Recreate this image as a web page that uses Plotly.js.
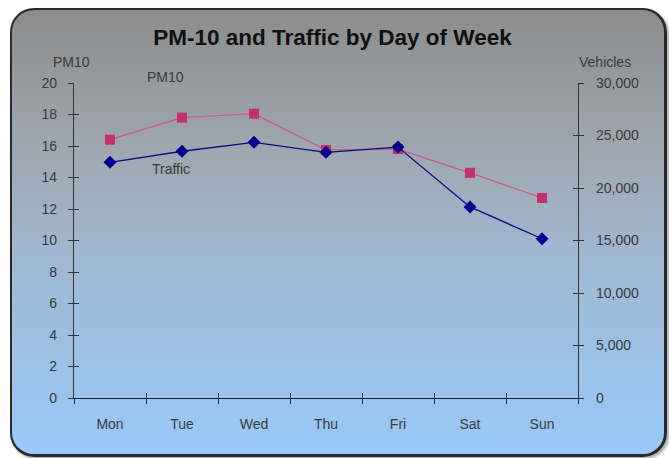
<!DOCTYPE html>
<html>
<head>
<meta charset="utf-8">
<script src="https://cdn.plot.ly/plotly-3.0.1.min.js"></script>
<style>
  html, body { margin:0; padding:0; background:#ffffff; }
  #wrap { position:relative; width:669px; height:458px; overflow:hidden; }
  #frame { position:absolute; left:10px; top:8px; width:652px; height:444px;
    border:2px solid #2a2a2a; border-right-width:3px; border-bottom-width:3px; border-radius:24px;
    background: linear-gradient(to bottom, #8c8c8c 0%, #9ea6ae 30%, #a0b8d0 55%, #99c9f9 100%);
    box-shadow: 2px 2px 3px rgba(0,0,0,0.35); }
  #chart { position:absolute; left:0; top:0; width:669px; height:458px; }
</style>
</head>
<body>
<div id="wrap"><div id="frame"></div><div id="chart"></div></div>
<script>
const days = ["Mon", "Tue", "Wed", "Thu", "Fri", "Sat", "Sun"];
const pm10 = [16.4, 17.8, 18.05, 15.75, 15.8, 14.3, 12.7];
const traffic = [22450, 23500, 24350, 23400, 23900, 18200, 15170];
const pm10Ticks = [0, 2, 4, 6, 8, 10, 12, 14, 16, 18, 20];
const vehicleTicks = [0, 5000, 10000, 15000, 20000, 25000, 30000];

const fnt = {family: "Liberation Sans, Arial, sans-serif", size: 14, color: "#3a3a3a"};

const traces = [
  {x: days, y: pm10, xaxis: "x2", yaxis: "y3", mode: "none", type: "scatter", hoverinfo: "skip", showlegend: false},
  {x: days, y: traffic, xaxis: "x", yaxis: "y4", mode: "none", type: "scatter", hoverinfo: "skip", showlegend: false},
  {x: days, y: pm10, name: "PM10", type: "scatter", mode: "lines+markers",
   line: {color: "#cc5c86", width: 1.3},
   marker: {symbol: "square", size: 10, color: "#c2306e"}, yaxis: "y"},
  {x: days, y: traffic, name: "Traffic", type: "scatter", mode: "lines+markers",
   line: {color: "#0a0a80", width: 1.3},
   marker: {symbol: "diamond", size: 10, color: "#00008b"}, yaxis: "y2"}
];

const layout = {
  width: 669, height: 458,
  paper_bgcolor: "rgba(0,0,0,0)", plot_bgcolor: "rgba(0,0,0,0)",
  margin: {l: 74, r: 91, t: 83, b: 60},
  showlegend: false,
  font: fnt,
  title: {text: "<b>PM-10 and Traffic by Day of Week</b>", x: 0.497, xanchor: "center", y: 0.918, yanchor: "middle",
          font: {family: "Liberation Sans, Arial, sans-serif", size: 22.5, color: "#111111"}},
  xaxis: {type: "category", range: [-0.5, 6.5], tickson: "boundaries", ticks: "outside", ticklen: 5,
          tickcolor: "#333", showline: true, linecolor: "#222", linewidth: 1.2, showgrid: false, zeroline: false,
          tickfont: fnt, ticklabelstandoff: 13},
  xaxis2: {type: "category", range: [-0.5, 6.5], overlaying: "x", anchor: "y3", side: "bottom", tickson: "boundaries", ticks: "inside", ticklen: 5,
          tickcolor: "#333", showline: false, showgrid: false, zeroline: false, showticklabels: false},
  yaxis: {range: [0, 20], tickvals: pm10Ticks, ticks: "outside", ticklen: 5, tickcolor: "#333",
          showline: true, linecolor: "#333", linewidth: 1.2, showgrid: false, zeroline: false, tickfont: fnt,
          ticklabelstandoff: 8},
  yaxis3: {range: [0, 20], tickvals: pm10Ticks, overlaying: "y", anchor: "x2", side: "left", ticks: "inside", ticklen: 5, tickcolor: "#333",
          showline: false, showgrid: false, zeroline: false, showticklabels: false},
  yaxis2: {range: [0, 30000], tickvals: vehicleTicks, tickformat: ",d", overlaying: "y", side: "right",
          ticks: "outside", ticklen: 5, tickcolor: "#333", showline: true, linecolor: "#333", linewidth: 1.2,
          showgrid: false, zeroline: false, tickfont: fnt, ticklabelstandoff: 9},
  yaxis4: {range: [0, 30000], tickvals: vehicleTicks, overlaying: "y", side: "right", ticks: "inside", ticklen: 5, tickcolor: "#333",
          showline: false, showgrid: false, zeroline: false, showticklabels: false},
  annotations: [
    {text: "PM10", xref: "paper", yref: "paper", x: -0.005, y: 1.067, showarrow: false, font: fnt, xanchor: "center", yanchor: "middle"},
    {text: "Vehicles", xref: "paper", yref: "paper", x: 1.054, y: 1.067, showarrow: false, font: fnt, xanchor: "center", yanchor: "middle"},
    {text: "PM10", xref: "paper", yref: "paper", x: 0.182, y: 1.019, showarrow: false, font: fnt, xanchor: "center", yanchor: "middle"},
    {text: "Traffic", xref: "paper", yref: "paper", x: 0.193, y: 0.727, showarrow: false, font: fnt, xanchor: "center", yanchor: "middle"}
  ]
};

Plotly.newPlot("chart", traces, layout, {displayModeBar: false, staticPlot: true});
</script>
</body>
</html>
